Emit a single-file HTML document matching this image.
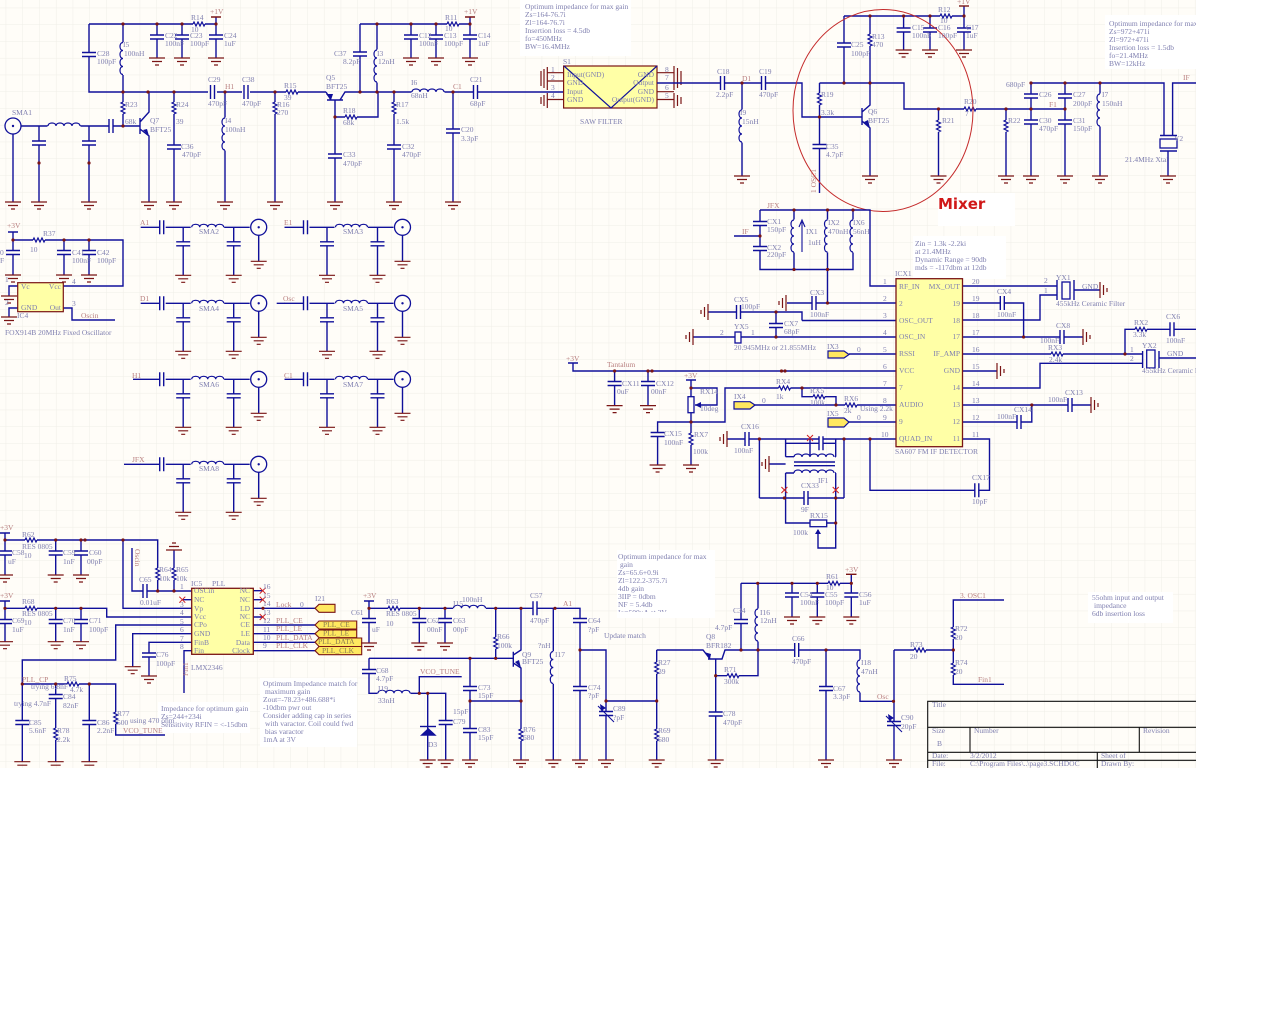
<!DOCTYPE html>
<html><head><meta charset="utf-8"><style>
html,body{margin:0;padding:0;background:#fff}
svg{display:block;filter:blur(0.3px)}
text{font-family:"Liberation Serif",serif;font-size:7.5px;fill:#8080b0}
.n text,text.n{fill:#b98080}
.w{fill:none;stroke:#10109a;stroke-width:1.4}
.s{fill:none;stroke:#10109a;stroke-width:1.2}
.m{fill:none;stroke:#7a1515;stroke-width:1.2}
</style></head><body>
<svg width="1280" height="1024" viewBox="0 0 1280 1024" xmlns="http://www.w3.org/2000/svg">
<defs>
<pattern id="grid" x="5.7" y="7.7" width="16.75" height="16.75" patternUnits="userSpaceOnUse"><path d="M16.75 0H0V16.75" fill="none" stroke="#efeee7" stroke-width="1"/></pattern>
<g id="g"><path class="m" d="M-8 0H8M-5 3.5H5M-2 7H2"/></g>
<g id="gi"><path class="m" d="M-8 0H8M-5 -3.5H5M-2 -7H2"/></g>
<g id="gl"><path class="m" d="M0 -8V8M-3.5 -5V5M-7 -2V2"/></g>
<g id="gr"><path class="m" d="M0 -8V8M3.5 -5V5M7 -2V2"/></g>
<g id="d"><circle r="1.6" fill="#7a1515"/></g>
<g id="cv"><rect x="-7" y="-1.6" width="14" height="3.2" fill="#fffdf8"/><path class="w" d="M-7 -2H7M-7 2H7"/></g>
<g id="ch"><rect x="-1.6" y="-7" width="3.2" height="14" fill="#fffdf8"/><path class="w" d="M-2 -7V7M2 -7V7"/></g>
<g id="rv"><rect x="-3" y="-6" width="6" height="12" fill="#fffdf8"/><path class="s" d="M0 -6L-2 -5L2 -3L-2 -1L2 1L-2 3L2 5L0 6"/></g>
<g id="rh"><rect x="-6" y="-3" width="12" height="6" fill="#fffdf8"/><path class="s" d="M-6 0L-5 -2L-3 2L-1 -2L1 2L3 -2L5 2L6 0"/></g>
<g id="lv"><rect x="-4" y="-16.5" width="6" height="33" fill="#fffdf8"/><path class="s" d="M0 -16c-4 0-4 8 0 8c-4 0-4 8 0 8c-4 0-4 8 0 8c-4 0-4 8 0 8"/></g>
<g id="lh"><rect x="-16.5" y="-4" width="33" height="6" fill="#fffdf8"/><path class="s" d="M-16 0c0-4 8-4 8 0c0-4 8-4 8 0c0-4 8-4 8 0c0-4 8-4 8 0"/></g>
<g id="sma"><circle r="8" fill="#fffdf8" stroke="#10109a" stroke-width="1.3"/><circle r="1.2" fill="#10109a"/></g>
<g id="x"><path d="M-3 -3L3 3M-3 3L3 -3" stroke="#d02020" fill="none" stroke-width="1"/></g>
<g id="filt">
<path class="w" d="M0 0H19M25 0H50M75 0H109"/>
<path class="w" d="M42.5 0V48M93 0V48M118 8V34"/>
<use href="#ch" x="21" y="0"/>
<use href="#lh" x="67" y="0"/>
<use href="#cv" x="42.5" y="16.5"/>
<use href="#cv" x="93" y="16.5"/>
<use href="#sma" x="118" y="0"/>
<use href="#g" x="42.5" y="48"/><use href="#g" x="93" y="48"/><use href="#g" x="118" y="34"/>
</g>
</defs>

<rect x="0" y="0" width="1196" height="768" fill="#fffdf8"/>
<rect x="0" y="0" width="1196" height="768" fill="url(#grid)"/>

<!-- white note boxes -->
<g fill="#ffffff">
<rect x="520" y="0" width="111" height="56"/>
<rect x="1105" y="15" width="91" height="54"/>
<rect x="938" y="193" width="77" height="33"/>
<rect x="913" y="236" width="93" height="43"/>
<rect x="158" y="702" width="92" height="31"/>
<rect x="260" y="678" width="97" height="69"/>
<rect x="617" y="550" width="98" height="67"/>
<rect x="1088" y="592" width="85" height="31"/>
</g>

<!-- ===== top-left wires ===== -->
<path class="w" d="M89 24H216V17M89 24V92H208M217 92H242M250 92H326M123 24V126M157 24V58M182 24V58M216 24V58
M21 126H140M39 126V202M89 126V202M13 134V202
M140 118V134M140 122L149 112V92M140 129L149 136V202M174 92V202M225 92V202M275 92V202
M326 92L331 100M335 100V202M327 100H343M340 100L345 92H453M335 117H378V92M360 24V92M377 24V92M360 24H470V17M411 24V58M436 24V58M470 24V58
M394 92V202M453 92V202M453 92H520M520 92H563"/>
<path class="m" d="M211 17H221M465 17H475" style="stroke-width:1.4"/>
<g>
<use href="#rh" x="199" y="24"/><use href="#cv" x="89" y="54.5"/><use href="#lv" x="123" y="58.5"/>
<use href="#cv" x="157" y="37"/><use href="#cv" x="182" y="37"/><use href="#cv" x="216" y="37"/>
<use href="#rv" x="123" y="108"/><use href="#rv" x="174" y="108"/><use href="#rv" x="275" y="108"/><use href="#rv" x="394" y="108"/>
<use href="#ch" x="212.5" y="92"/><use href="#ch" x="246" y="92"/><use href="#rh" x="292" y="92"/>
<use href="#lh" x="64" y="126"/><use href="#ch" x="111" y="126"/>
<use href="#cv" x="39" y="143"/><use href="#cv" x="89" y="143"/>
<use href="#cv" x="174" y="147"/><use href="#lv" x="225" y="134"/><use href="#cv" x="335" y="156"/><use href="#cv" x="394" y="147"/><use href="#cv" x="453" y="131"/>
<use href="#rh" x="351" y="117"/><use href="#cv" x="360" y="54"/><use href="#lv" x="377" y="66"/>
<use href="#cv" x="411" y="37"/><use href="#cv" x="436" y="37"/><use href="#cv" x="470" y="37"/><use href="#rh" x="453" y="24"/>
<use href="#lh" x="428" y="92"/><use href="#ch" x="475.5" y="92"/>
<use href="#sma" x="13" y="126"/>
<path d="M149 136L143 130L147 129Z" fill="#10109a"/><path d="M331 100L326 94L333 94Z" fill="#10109a"/>
<use href="#g" x="13" y="202"/><use href="#g" x="39" y="202"/><use href="#g" x="89" y="202"/><use href="#g" x="149" y="202"/><use href="#g" x="174" y="202"/><use href="#g" x="225" y="202"/><use href="#g" x="275" y="202"/><use href="#g" x="335" y="202"/><use href="#g" x="394" y="202"/><use href="#g" x="453" y="202"/>
<use href="#g" x="157" y="58"/><use href="#g" x="182" y="58"/><use href="#g" x="216" y="58"/><use href="#g" x="411" y="58"/><use href="#g" x="436" y="58"/><use href="#g" x="470" y="58"/>
<use href="#d" x="123" y="24"/><use href="#d" x="157" y="24"/><use href="#d" x="182" y="24"/><use href="#d" x="216" y="24"/>
<use href="#d" x="123" y="92"/><use href="#d" x="148" y="92"/><use href="#d" x="174" y="92"/><use href="#d" x="225" y="92"/><use href="#d" x="275" y="92"/><use href="#d" x="123" y="126"/><use href="#d" x="39" y="163"/><use href="#d" x="89" y="163"/>
<use href="#d" x="335" y="117"/><use href="#d" x="360" y="92"/><use href="#d" x="377" y="92"/><use href="#d" x="394" y="92"/><use href="#d" x="453" y="92"/>
<use href="#d" x="377" y="24"/><use href="#d" x="411" y="24"/><use href="#d" x="436" y="24"/><use href="#d" x="470" y="24"/>
</g>
<text x="12" y="115">SMA1</text><text x="191" y="20">R14</text><text x="191" y="32">10</text><text class="n" x="210" y="14">+1V</text>
<text x="165" y="38">C22</text><text x="165" y="46">100nF</text><text x="190" y="38">C23</text><text x="190" y="46">100pF</text><text x="224" y="38">C24</text><text x="224" y="46">1uF</text>
<text x="97" y="56">C28</text><text x="97" y="64">100pF</text><text x="123" y="47">I5</text><text x="124" y="56">100nH</text>
<text x="208" y="82">C29</text><text x="208" y="106">470pF</text><text class="n" x="225" y="89">H1</text><text x="242" y="82">C38</text><text x="242" y="106">470pF</text>
<text x="284" y="88">R15</text><text x="284" y="100">39</text><text x="176" y="107">R24</text><text x="176" y="124">39</text><text x="125" y="107">R23</text><text x="125" y="124">68k</text>
<text x="150" y="123">Q7</text><text x="150" y="132">BFT25</text><text x="181" y="149">C36</text><text x="182" y="157">470pF</text><text x="225" y="123">I4</text><text x="225" y="132">100nH</text>
<text x="277" y="107">R16</text><text x="277" y="115">270</text><text x="326" y="80">Q5</text><text x="326" y="89">BFT25</text><text x="343" y="113">R18</text><text x="343" y="125">68k</text>
<text x="343" y="157">C33</text><text x="343" y="166">470pF</text><text x="334" y="56">C37</text><text x="343" y="64">8.2pF</text><text x="377" y="56">I3</text><text x="378" y="64">12nH</text>
<text x="445" y="20">R11</text><text x="445" y="31">10</text><text class="n" x="464" y="14">+1V</text><text x="419" y="38">C12</text><text x="419" y="46">100nF</text><text x="444" y="38">C13</text><text x="444" y="46">100pF</text><text x="478" y="38">C14</text><text x="478" y="46">1uF</text>
<text x="396" y="107">R17</text><text x="396" y="124">1.5k</text><text x="411" y="85">I6</text><text x="411" y="98">68nH</text><text class="n" x="453" y="89">C1</text><text x="470" y="82">C21</text><text x="470" y="106">68pF</text>
<text x="461" y="132">C20</text><text x="461" y="141">3.3pF</text><text x="402" y="149">C32</text><text x="402" y="157">470pF</text>

<!-- ===== SAW + mixer ===== -->
<rect x="563.6" y="66" width="93.4" height="42" fill="#ffffa6" stroke="#7a1515" stroke-width="1.2"/>
<path class="s" d="M564 66L611 108L657 66"/>
<path class="m" d="M547 72.7H563M547 81H563M547 99.5H563M657 72.7H674M657 91.7H674M657 99.5H674"/>
<path class="m" d="M547.3 67V90M544 69V88M541 71V86M547.3 93V108M544 95V106M541 97V104M674 66V90M677.5 68V88M681 71V85M674 93V108M677.5 95V106M681 97V104"/>
<path class="w" d="M657 83H720M725 83H761M766 83H802V117H862M742 83V176M819.5 83H904V109H1065M819.5 83V117M819.5 117V193
M844 16V83M870 16V83M844 16H964V6M903.6 16V50M930 16V50M964 16V50
M862 108V125M862 112L870 105V83M862 121L870 128V176M938.5 109V176M1006 109V176M1031 83V176M1065 83V176M1100 83V176
M1031 83H1164V135M1172.6 135V83H1196M1168 151V176"/>
<path class="m" d="M959 6H969" style="stroke-width:1.4"/>
<g>
<use href="#ch" x="722.5" y="83"/><use href="#ch" x="763.5" y="83"/><use href="#lv" x="742" y="126"/>
<use href="#rv" x="819.5" y="99"/><use href="#cv" x="819.5" y="146.5"/><use href="#cv" x="844" y="45"/><use href="#rv" x="870" y="40"/>
<use href="#cv" x="903.6" y="30"/><use href="#cv" x="930" y="30"/><use href="#cv" x="964" y="30"/><use href="#rh" x="946" y="16"/>
<use href="#rh" x="970" y="109"/><use href="#rv" x="938.5" y="126"/><use href="#rv" x="1006" y="126"/>
<use href="#cv" x="1031" y="96"/><use href="#cv" x="1031" y="122"/><use href="#cv" x="1065" y="96"/><use href="#cv" x="1065" y="122"/><use href="#lv" x="1100" y="110"/>
<rect x="1160" y="139" width="17" height="9" fill="#fffdf8" stroke="#10109a" stroke-width="1.3"/><path class="w" d="M1160 135.5H1177M1160 151H1177"/>
<path d="M870 128L864 122L868 120Z" fill="#10109a"/>
<use href="#g" x="742" y="176"/><use href="#g" x="870" y="176"/><use href="#g" x="938.5" y="176"/><use href="#g" x="1006" y="176"/><use href="#g" x="1031" y="176"/><use href="#g" x="1065" y="176"/><use href="#g" x="1100" y="176"/><use href="#g" x="1168" y="176"/>
<use href="#g" x="903.6" y="50"/><use href="#g" x="930" y="50"/><use href="#g" x="964" y="50"/>
<use href="#d" x="742" y="83"/><use href="#d" x="844" y="83"/><use href="#d" x="870" y="83"/><use href="#d" x="819.5" y="117"/>
<use href="#d" x="870" y="16"/><use href="#d" x="903.6" y="16"/><use href="#d" x="930" y="16"/><use href="#d" x="964" y="16"/>
<use href="#d" x="938.5" y="109"/><use href="#d" x="1006" y="109"/><use href="#d" x="1031" y="109"/><use href="#d" x="1065" y="109"/><use href="#d" x="1031" y="83"/><use href="#d" x="1065" y="83"/><use href="#d" x="1100" y="83"/>
</g>
<ellipse cx="883" cy="110.5" rx="90" ry="101" fill="none" stroke="#c42a2a" stroke-width="1"/>
<text x="938" y="209" style="font-family:'DejaVu Sans',sans-serif;font-weight:bold;font-size:15px;fill:#d01818">Mixer</text>

<g><text x="525" y="9">Optimum impedance for max gain</text><text x="525" y="17">Zs=164-76.7i</text><text x="525" y="25">Zl=164-76.7i</text><text x="525" y="33">Insertion loss = 4.5db</text><text x="525" y="41">fo=450MHz</text><text x="525" y="49">BW=16.4MHz</text>
<text x="1109" y="26">Optimum impedance for max g</text><text x="1109" y="34">Zs=972+471i</text><text x="1109" y="42">Zl=972+471i</text><text x="1109" y="50">Insertion loss = 1.5db</text><text x="1109" y="58">fo=21.4MHz</text><text x="1109" y="66">BW=12kHz</text></g>
<text x="563" y="64">S1</text><text x="567" y="77">Input(GND)</text><text x="567" y="85">GND</text><text x="567" y="94">Input</text><text x="567" y="102">GND</text>
<g text-anchor="end"><text x="654" y="77">GND</text><text x="654" y="85">Output</text><text x="654" y="94">GND</text><text x="654" y="102">Output(GND)</text></g>
<text x="551" y="72">1</text><text x="551" y="80">2</text><text x="551" y="90">3</text><text x="551" y="98">4</text><text x="665" y="72">8</text><text x="665" y="80">7</text><text x="665" y="90">6</text><text x="665" y="98">5</text>
<text x="580" y="124">SAW FILTER</text><text x="717" y="74">C18</text><text x="716" y="97">2.2pF</text><text class="n" x="742" y="81">D1</text><text x="759" y="74">C19</text><text x="759" y="97">470pF</text>
<text x="740" y="115">I9</text><text x="742" y="124">15nH</text><text x="821" y="97">R19</text><text x="821" y="115">3.3k</text><text x="826" y="149">C35</text><text x="826" y="157">4.7pF</text>
<text x="851" y="47">C25</text><text x="851" y="56">100pF</text><text x="872" y="39">R13</text><text x="872" y="47">470</text><text x="868" y="114">Q6</text><text x="868" y="123">BFT25</text>
<text x="938" y="12">R12</text><text x="940" y="23">10</text><text class="n" x="957" y="4">+1V</text><text x="912" y="30">C15</text><text x="912" y="38">100nF</text><text x="938" y="30">C16</text><text x="938" y="38">100pF</text><text x="966" y="30">C17</text><text x="966" y="38">1uF</text>
<text x="964" y="104">R20</text><text x="965" y="116">7</text><text x="942" y="123">R21</text><text x="1008" y="123">R22</text><text x="1006" y="87">680pF</text>
<text x="1039" y="97">C26</text><text x="1039" y="123">C30</text><text x="1039" y="131">470pF</text><text class="n" x="1049" y="107">F1</text><text x="1073" y="97">C27</text><text x="1073" y="106">200pF</text><text x="1073" y="123">C31</text><text x="1073" y="131">150pF</text>
<text x="1102" y="97">I7</text><text x="1102" y="106">150nH</text><text x="1174" y="141">Y2</text><text x="1125" y="162">21.4MHz Xtal</text><text class="n" x="1183" y="80">IF</text>
<text class="n" transform="translate(816 193) rotate(-90)">1 OSC1</text>

<!-- ===== R37 / IC4 ===== -->
<path class="w" d="M13 232V275M8 232H18M13 240H123V286H63M64 240V275M89 240V275"/>
<path class="w" d="M17.7 286H9V296M17.7 308H9V317M63 308H72V320H115"/>
<use href="#rh" x="39" y="240"/><use href="#cv" x="13" y="252.5"/><use href="#cv" x="64" y="252.5"/><use href="#cv" x="89" y="252.5"/>
<use href="#g" x="13" y="275"/><use href="#g" x="64" y="275"/><use href="#g" x="89" y="275"/><use href="#g" x="9" y="296"/><use href="#g" x="9" y="317"/>
<use href="#d" x="13" y="240"/><use href="#d" x="64" y="240"/><use href="#d" x="89" y="240"/>
<rect x="17.7" y="282.7" width="45.6" height="29" fill="#ffffa6" stroke="#7a1515" stroke-width="1.2"/>
<text class="n" x="7" y="228">+3V</text><text x="43" y="236">R37</text><text x="30" y="252">10</text><text x="72" y="255">C41</text><text x="72" y="263">100nF</text><text x="97" y="255">C42</text><text x="97" y="263">100pF</text>
<text x="21" y="289">Vc</text><text x="61" y="289" text-anchor="end">Vcc</text><text x="21" y="310">GND</text><text x="61" y="310" text-anchor="end">Out</text>
<text x="72" y="284">4</text><text x="72" y="306">3</text><text x="17" y="318">IC4</text><text class="n" x="81" y="318">Oscin</text><text x="5" y="335">FOX914B 20MHz Fixed Oscillator</text><text x="5" y="282">1</text><text x="5" y="305">2</text><text x="0" y="255">0</text><text x="0" y="263">F</text>

<!-- ===== SMA filters ===== -->
<g transform="translate(140.7 227.3)"><use href="#filt"/></g>
<g transform="translate(284.5 227.3)"><use href="#filt"/></g>
<g transform="translate(140.7 303.3)"><use href="#filt"/></g>
<g transform="translate(284.5 303.3)"><use href="#filt"/></g>
<path class="w" d="M276.7 303.3H285M133 379.3H141M124 464.3H141"/>
<g transform="translate(140.7 379.3)"><use href="#filt"/></g>
<g transform="translate(284.5 379.3)"><use href="#filt"/></g>
<g transform="translate(140.7 464.3)"><use href="#filt"/></g>
<text x="199" y="234">SMA2</text><text x="343" y="234">SMA3</text><text x="199" y="311">SMA4</text><text x="343" y="311">SMA5</text><text x="199" y="387">SMA6</text><text x="343" y="387">SMA7</text><text x="199" y="471">SMA8</text>
<g class="n"><text x="140" y="225">A1</text><text x="284" y="225">E1</text><text x="140" y="301">D1</text><text x="283" y="301">Osc</text><text x="132" y="378">H1</text><text x="284" y="378">C1</text><text x="132" y="462">JFX</text></g>

<!-- ===== IF section ===== -->
<path class="w" d="M760 210H870V286H896M760 210V269.5H853V210M794 210V269.5M827.5 210V303M853 210V269.5M734 236H760
M787 303H896M802 320.5H896M802 320.5V312H708M776 312V337M693 337H896M849 354H896M573 363V371H896M568 363H578
M614.6 371V405.6M648 371V405.6M691 380V465M686 380H696M691 388H717V405H695M691 422H657.6V465M657.6 422H725V388H896M802 388V396.7H836V405M755 405H896M849 422H896
M727 439H896M759.4 439V498M844 439V498M785.6 439V456.7M835.7 439V456.7M785.6 443.3H835.7M810 438V456M769 464H785.6
M785.6 473V523H836M835.7 473V548H818V530M759.4 498H844M870 439V490.3H989.5V439H962.5
M962.5 286H1057M962.5 303H1023.6V337M962.5 320H1040V295H1057M962.5 337H1083M962.5 354H1142.6M1125 354V329.3H1196M962.5 371H997M962.5 388H1040V363.3H1142.6M962.5 405H1091M962.5 422H1031.8V405M1074 290H1100M1159 358H1196"/>
<path d="M802 252V222M799 227L802 220L805 227" fill="none" stroke="#10109a" stroke-width="1.1"/>
<g>
<use href="#cv" x="760" y="223.5"/><use href="#cv" x="760" y="248.5"/><use href="#lv" x="794" y="236"/><use href="#lv" x="827.5" y="236"/><use href="#lv" x="853" y="236"/>
<use href="#ch" x="814" y="303"/><use href="#ch" x="738.5" y="312"/><use href="#cv" x="776" y="325.5"/>
<rect x="735" y="332" width="6" height="11" fill="#fffdf8" stroke="#10109a" stroke-width="1.3"/>
<use href="#rh" x="784.5" y="388"/><use href="#rh" x="819" y="396.7"/><use href="#rh" x="851" y="405"/><use href="#rv" x="691" y="439"/><use href="#cv" x="657.6" y="434.5"/>
<rect x="688" y="396.7" width="6" height="16" fill="#fffdf8" stroke="#10109a" stroke-width="1.3"/>
<path d="M695 405L701 402V408Z" fill="#10109a"/>
<use href="#cv" x="614.6" y="383.5"/><use href="#cv" x="648" y="383.5"/>
<use href="#ch" x="747" y="439"/><use href="#ch" x="821" y="443.3"/><use href="#ch" x="806" y="498"/><use href="#ch" x="976.8" y="490.3"/>
<path class="w" d="M794 462H835M794 465.7H835M785.6 456.7H794M835 456.7H836M785.6 473H794M835 473H836"/>
<path class="s" d="M794 457c0-4 8-4 8 0c0-4 8-4 8 0c0-4 8-4 8 0c0-4 8-4 8 0c0-4 8-4 8 0M794 473c0-4 8-4 8 0c0-4 8-4 8 0c0-4 8-4 8 0c0-4 8-4 8 0c0-4 8-4 8 0"/>
<rect x="810" y="520" width="16.7" height="6.7" fill="#fffdf8" stroke="#10109a" stroke-width="1.3"/><path d="M818 529L815 534H821Z" fill="#10109a"/>
<use href="#x" x="810" y="438"/><use href="#x" x="784.4" y="490"/><use href="#x" x="835.7" y="490"/>
<use href="#ch" x="1002.3" y="303"/><use href="#ch" x="1062" y="337"/><use href="#ch" x="1172" y="329.3"/><use href="#rh" x="1057" y="354"/><use href="#rh" x="1141" y="329.3"/>
<use href="#ch" x="1070" y="405"/><use href="#ch" x="1019" y="422"/>
<path class="w" d="M1057 280V300M1074 280V300M1142.6 351V368M1159 351V368"/>
<rect x="1062" y="282" width="8" height="17" fill="#fffdf8" stroke="#10109a" stroke-width="1.3"/>
<rect x="1146.7" y="350" width="8.3" height="18" fill="#fffdf8" stroke="#10109a" stroke-width="1.3"/>
<use href="#gl" x="786" y="303"/><use href="#gl" x="708" y="312"/><use href="#gl" x="693" y="337"/><use href="#gl" x="727" y="439"/><use href="#gl" x="769" y="464"/>
<use href="#gr" x="1100" y="290"/><use href="#gr" x="1083" y="337"/><use href="#gr" x="997" y="371"/><use href="#gr" x="1091" y="405"/>
<use href="#g" x="614.6" y="405.6"/><use href="#g" x="648" y="405.6"/><use href="#g" x="691" y="465"/><use href="#g" x="657.6" y="465"/>
<use href="#d" x="760" y="236"/><use href="#d" x="794" y="210"/><use href="#d" x="827.5" y="210"/><use href="#d" x="853" y="210"/><use href="#d" x="794" y="269.5"/><use href="#d" x="827.5" y="269.5"/><use href="#d" x="827.5" y="303"/>
<use href="#d" x="776" y="312"/><use href="#d" x="776" y="337"/><use href="#d" x="614.6" y="371"/><use href="#d" x="648" y="371"/><use href="#d" x="652" y="371"/><use href="#d" x="781.5" y="371"/><use href="#d" x="785" y="371"/>
<use href="#d" x="691" y="388"/><use href="#d" x="691" y="422"/><use href="#d" x="802" y="388"/><use href="#d" x="836" y="405"/>
<use href="#d" x="759.4" y="439"/><use href="#d" x="844" y="439"/><use href="#d" x="870" y="439"/><use href="#d" x="784.4" y="498"/><use href="#d" x="835.7" y="498"/><use href="#d" x="835.7" y="523"/>
<use href="#d" x="1023.6" y="337"/><use href="#d" x="1125" y="354"/><use href="#d" x="1031.8" y="405"/>
</g>
<rect x="896" y="278.7" width="66.5" height="168" fill="#ffffa6" stroke="#7a1515" stroke-width="1.3"/>
<!-- ports -->
<g fill="#ffe860" stroke="#10109a" stroke-width="1.2"><path d="M828 351H844L849 354.5L844 358H828Z"/><path d="M734 401.7H750L755 405L750 409H734Z"/><path d="M828 418H844L849 422L844 427H828Z"/></g>
<text x="767" y="208" class="n">JFX</text><text x="767" y="224">CX1</text><text x="767" y="232">150pF</text><text x="767" y="250">CX2</text><text x="767" y="257">220pF</text><text class="n" x="742" y="234">IF</text>
<text x="806" y="234">IX1</text><text x="808" y="245">1uH</text><text x="828" y="225">IX2</text><text x="828" y="234">470nH</text><text x="853" y="225">IX6</text><text x="853" y="234">56nH</text>
<text x="915" y="246">Zin = 1.3k -2.2ki</text><text x="915" y="254">at 21.4MHz</text><text x="915" y="262">Dynamic Range = 90db</text><text x="915" y="270">mds = -117dbm at 12db</text>
<text x="895" y="276">ICX1</text><text x="810" y="295">CX3</text><text x="810" y="317">100nF</text><text x="734" y="302">CX5</text><text x="741" y="309">100pF</text><text x="784" y="326">CX7</text><text x="784" y="334">68pF</text>
<text x="734" y="329">YX5</text><text x="720" y="335">2</text><text x="751" y="335">1</text><text x="734" y="350">20.945MHz or 21.855MHz</text><text x="827" y="349">IX3</text><text x="857" y="352">0</text>
<g><text x="899" y="289">RF_IN</text><text x="899" y="306">2</text><text x="899" y="323">OSC_OUT</text><text x="899" y="339">OSC_IN</text><text x="899" y="356">RSSI</text><text x="899" y="373">VCC</text><text x="899" y="390">7</text><text x="899" y="407">AUDIO</text><text x="899" y="424">9</text><text x="899" y="441">QUAD_IN</text></g>
<g text-anchor="end"><text x="960" y="289">MX_OUT</text><text x="960" y="306">19</text><text x="960" y="323">18</text><text x="960" y="339">17</text><text x="960" y="356">IF_AMP</text><text x="960" y="373">GND</text><text x="960" y="390">14</text><text x="960" y="407">13</text><text x="960" y="424">12</text><text x="960" y="441">11</text></g>
<g><text x="883" y="284">1</text><text x="883" y="301">2</text><text x="883" y="318">3</text><text x="883" y="335">4</text><text x="883" y="352">5</text><text x="883" y="369">6</text><text x="883" y="386">7</text><text x="883" y="403">8</text><text x="883" y="420">9</text><text x="881" y="437">10</text>
<text x="972" y="284">20</text><text x="972" y="301">19</text><text x="972" y="318">18</text><text x="972" y="335">17</text><text x="972" y="352">16</text><text x="972" y="369">15</text><text x="972" y="386">14</text><text x="972" y="403">13</text><text x="972" y="420">12</text><text x="972" y="437">11</text></g>
<text x="1056" y="280">YX1</text><text x="1044" y="283">2</text><text x="1044" y="293">1</text><text x="1082" y="289">GND</text><text x="1056" y="306">455kHz Ceramic Filter</text><text x="997" y="294">CX4</text><text x="997" y="317">100nF</text>
<text x="1056" y="328">CX8</text><text x="1040" y="343">100nF</text><text x="1048" y="350">RX3</text><text x="1049" y="362">2.4k</text><text x="1134" y="325">RX2</text><text x="1133" y="337">3.3k</text><text x="1166" y="319">CX6</text><text x="1166" y="343">100nF</text>
<text x="1142" y="348">YX2</text><text x="1130" y="352">1</text><text x="1130" y="361">2</text><text x="1167" y="356">GND</text><text x="1142" y="373">455kHz Ceramic Filter</text><text x="1065" y="395">CX13</text><text x="1048" y="402">100nF</text><text x="1014" y="412">CX14</text><text x="997" y="419">100nF</text><text x="972" y="480">CX17</text><text x="972" y="504">10pF</text>
<text class="n" x="607" y="367">Tantalum</text><text x="622" y="386">CX11</text><text x="617" y="394">0uF</text><text x="656" y="386">CX12</text><text x="651" y="394">00nF</text><text class="n" x="566" y="361">+3V</text><text class="n" x="684" y="378">+3V</text>
<text x="700" y="394">RX14</text><text x="700" y="411">10deg</text><text x="776" y="384">RX4</text><text x="776" y="399">1k</text><text x="810" y="393">RX5</text><text x="810" y="405">100k</text><text x="844" y="401">RX6</text><text x="844" y="413">2k</text><text x="860" y="411">Using 2.2k</text>
<text x="734" y="399">IX4</text><text x="762" y="403">0</text><text x="827" y="416">IX5</text><text x="857" y="420">0</text><text x="694" y="437">RX7</text><text x="693" y="454">100k</text><text x="664" y="436">CX15</text><text x="664" y="445">100nF</text><text x="741" y="429">CX16</text><text x="734" y="453">100nF</text>
<text x="818" y="483">IF1</text><text x="801" y="488">CX33</text><text x="801" y="512">9F</text><text x="810" y="518">RX15</text><text x="793" y="535">100k</text><text x="895" y="454">SA607 FM IF DETECTOR</text>

<!-- ===== PLL section ===== -->
<path class="w" d="M5 533V575M0 533H10M5 540H157.7V591M55.7 540V575M81 540V575M123 540V608.3H191.7M174 550V591M132 548V591H191.7
M5 601V641.7M0 601H10M5 608.3H106.7V617H191.7M55.7 608V641.7M81 608V641.7
M182 599.7H191.7M191.7 625H115.7V660H22.3V761.7M191.7 633.7H132.7V666.7M191.7 642.3H149V676M191.7 650.7H184V693
M253 590.7H262.7M253 599.7H262.7M253 608.3H315M253 617H262.7M253 625H315M253 633.7H315M253 642.3H315M253 650.7H315
M22.3 684H115.7V735H165M55.7 684V761.7M89.3 684V761.7"/>
<g>
<use href="#rh" x="31" y="540"/><use href="#rh" x="31" y="608.3"/><use href="#cv" x="5" y="553"/><use href="#cv" x="55.7" y="553"/><use href="#cv" x="81" y="553"/>
<use href="#cv" x="5" y="621.5"/><use href="#cv" x="55.7" y="621.5"/><use href="#cv" x="81" y="621.5"/>
<use href="#rv" x="157.7" y="574"/><use href="#rv" x="174" y="574"/><use href="#ch" x="145" y="591"/><use href="#cv" x="149" y="655"/>
<use href="#rh" x="73" y="684"/><use href="#cv" x="55.7" y="696.5"/><use href="#rv" x="55.7" y="734"/><use href="#cv" x="22.3" y="722.5"/><use href="#cv" x="89.3" y="722.5"/><use href="#rv" x="115.7" y="718"/>
<use href="#x" x="182.3" y="599.7"/><use href="#x" x="262.7" y="590.7"/><use href="#x" x="262.7" y="599.7"/><use href="#x" x="262.7" y="617"/>
<use href="#gi" x="174" y="550"/>
<use href="#g" x="5" y="575"/><use href="#g" x="55.7" y="575"/><use href="#g" x="81" y="575"/><use href="#g" x="5" y="641.7"/><use href="#g" x="55.7" y="641.7"/><use href="#g" x="81" y="641.7"/>
<use href="#g" x="132.7" y="666.7"/><use href="#g" x="149" y="676"/><use href="#g" x="22.3" y="761.7"/><use href="#g" x="55.7" y="761.7"/><use href="#g" x="89.3" y="761.7"/>
<use href="#d" x="5" y="540"/><use href="#d" x="55.7" y="540"/><use href="#d" x="81" y="540"/><use href="#d" x="85" y="540"/><use href="#d" x="123" y="540"/><use href="#d" x="157.7" y="591"/><use href="#d" x="174" y="591"/>
<use href="#d" x="5" y="608.3"/><use href="#d" x="55.7" y="608.3"/><use href="#d" x="81" y="608.3"/><use href="#d" x="263" y="608.3"/><use href="#d" x="22.3" y="684"/><use href="#d" x="55.7" y="684"/><use href="#d" x="89.3" y="684"/>
</g>
<rect x="191.7" y="588.3" width="61.6" height="66" fill="#ffffa6" stroke="#7a1515" stroke-width="1.3"/>
<g fill="#ffe860" stroke="#7a1515" stroke-width="1.1"><path d="M315 608.3L319 604.3H335V612.3H319Z"/><path d="M315 625L319 621H356.7V629H319Z"/><path d="M315 633.7L319 630H356.7V637.7H319Z"/><path d="M315 642.3L319 638H361.7V646.5H319Z"/><path d="M315 650.7L319 646.5H361.7V654.7H319Z"/></g>
<text class="n" x="0" y="530">+3V</text><text x="22" y="537">R62</text><text x="22" y="549">RES 0805</text><text x="24" y="558">10</text><text x="12" y="555">C58</text><text x="8" y="564">uF</text><text x="63" y="555">C59</text><text x="63" y="564">1nF</text><text x="89" y="555">C60</text><text x="87" y="564">00pF</text>
<text x="159" y="572">R64</text><text x="159" y="581">10k</text><text x="176" y="572">R65</text><text x="176" y="581">10k</text><text class="n" transform="translate(135 549) rotate(90)">Oscin</text><text x="139" y="582">C65</text><text x="140" y="605">0.01uF</text><text x="191" y="586">IC5</text><text x="212" y="586">PLL</text>
<text x="180" y="589">1</text><text x="180" y="615">4</text><text x="180" y="624">5</text><text x="180" y="632">6</text><text x="180" y="641">7</text><text x="180" y="649">8</text><text x="180" y="607">3</text>
<text x="194" y="593">OSCin</text><text x="194" y="602">NC</text><text x="194" y="611">Vp</text><text x="194" y="619">Vcc</text><text x="194" y="627">CPo</text><text x="194" y="636">GND</text><text x="194" y="645">FinB</text><text x="194" y="653">Fin</text>
<g text-anchor="end"><text x="250" y="593">NC</text><text x="250" y="602">NC</text><text x="250" y="611">LD</text><text x="250" y="619">NC</text><text x="250" y="627">CE</text><text x="250" y="636">LE</text><text x="250" y="645">Data</text><text x="250" y="653">Clock</text></g>
<text x="263" y="589">16</text><text x="263" y="598">15</text><text x="263" y="606">14</text><text x="263" y="615">13</text><text x="263" y="623">12</text><text x="263" y="632">11</text><text x="263" y="640">10</text><text x="263" y="648">9</text>
<g class="n"><text x="276" y="607">Lock</text><text x="276" y="623">PLL_CE</text><text x="276" y="631">PLL_LE</text><text x="276" y="640">PLL_DATA</text><text x="276" y="648">PLL_CLK</text></g>
<text x="300" y="607">0</text><text x="315" y="601">I21</text>
<text x="323" y="627" style="fill:#8a7a50">PLL_CE</text><text x="323" y="635.5" style="fill:#8a7a50">PLL_LE</text><text x="318" y="644" style="fill:#8a7a50">PLL_DATA</text><text x="322" y="653" style="fill:#8a7a50">PLL_CLK</text>
<text class="n" x="0" y="598">+3V</text><text x="22" y="604">R68</text><text x="22" y="616">RES 0805</text><text x="24" y="625">10</text><text x="12" y="623">C69</text><text x="12" y="632">1uF</text><text x="63" y="623">C70</text><text x="63" y="632">1nF</text><text x="89" y="623">C71</text><text x="89" y="632">100pF</text>
<text x="156" y="657">C76</text><text x="156" y="666">100pF</text><text x="191" y="670">LMX2346</text><text class="n" transform="translate(188 676) rotate(-90)">Fin1</text>
<text class="n" x="22" y="682">PLL_CP</text><text x="31" y="689">trying 6.8nF</text><text x="64" y="681">R75</text><text x="70" y="692">4.7k</text><text x="63" y="699">C84</text><text x="63" y="708">82nF</text><text x="14" y="706">trying 4.7nF</text>
<text x="29" y="725">C85</text><text x="29" y="733">5.6nF</text><text x="57" y="733">R78</text><text x="57" y="742">2.2k</text><text x="97" y="725">C86</text><text x="97" y="733">2.2nF</text><text x="117" y="716">R77</text><text x="117" y="725">500</text><text x="130" y="723">using 470 ohm</text><text class="n" x="123" y="733">VCO_TUNE</text>
<text x="161" y="711">Impedance for optimum gain</text><text x="161" y="719">Zs=244+234i</text><text x="161" y="727">Sensitivity RFIN = &lt;-15dbm</text>
<text x="263" y="686">Optimum Impedance match for</text><text x="265" y="694">maximum gain</text><text x="263" y="702">Zout=-78.23+486.688*i</text><text x="263" y="710">-10dbm pwr out</text><text x="263" y="718">Consider adding cap in series</text><text x="265" y="726">with varactor. Coil could fwd</text><text x="265" y="734">bias varactor</text><text x="263" y="742">1mA at 3V</text>

<!-- ===== bottom middle ===== -->
<path class="w" d="M369 601V643M364 601H374M369 608.3H533M536.7 608.3H580V650H606V760M419.3 608V643M445 608V643M495.7 608V658.3M521 608V650L513.3 655M369 658.3H513.3M513.3 651.7V666.7M513.3 663L521 668V760
M470 658.3V760M470 701H521M369 658.3V693.3H445.7V760M427.7 693.3V760M419.3 693.3V676.7H461.7M553.3 608.3V760M580 650V760M606 701H656.7M656.7 650V760M656.7 650H703L710 659M708 659H722L725 650H741M715.7 659V760M715.7 675.7H758V583.3M741 583.3V650M741 583.3H851.3V574.3M792 583V617M817.3 583V617M851.3 583V617M741 650H795M798.3 650H860V701.3H894M826 650V760M894 650V760M894 650H953.3V684.3H1004M953.3 650V600H1004"/>
<path class="m" d="M846 574.3H856.5" style="stroke-width:1.4"/>
<g>
<use href="#rh" x="394" y="608.3"/><use href="#lh" x="469.5" y="608.3"/><use href="#ch" x="535" y="608.3"/><use href="#cv" x="369" y="620.5"/><use href="#cv" x="419.3" y="620.5"/><use href="#cv" x="445" y="620.5"/>
<use href="#rv" x="495.7" y="643"/><use href="#cv" x="369" y="671.5"/><use href="#lh" x="394" y="693.3"/><use href="#cv" x="470" y="688.5"/><use href="#cv" x="470" y="730.5"/><use href="#cv" x="445.7" y="722.5"/><use href="#rv" x="521" y="735"/>
<use href="#lv" x="553.3" y="667.5"/><use href="#cv" x="580" y="620.5"/><use href="#cv" x="580" y="688.5"/><use href="#cv" x="606" y="713.5"/>
<path d="M598 722L614 706" stroke="#10109a" stroke-width="1.1" fill="none" transform="rotate(90 606 714)"/><path d="M600 704L606 708L601 711Z" fill="#10109a"/>
<use href="#rv" x="656.7" y="668"/><use href="#rv" x="656.7" y="735"/><use href="#cv" x="715.7" y="714"/><use href="#rh" x="733" y="675.7"/>
<use href="#cv" x="741" y="621.5"/><use href="#lv" x="758" y="625"/><use href="#rh" x="834" y="583.3"/><use href="#cv" x="792" y="595"/><use href="#cv" x="817.3" y="595"/><use href="#cv" x="851.3" y="595"/>
<use href="#ch" x="796.7" y="650"/><use href="#cv" x="826" y="688.5"/><use href="#lv" x="860" y="676"/><use href="#cv" x="894" y="723.5"/>
<path d="M886 732L902 716" stroke="#10109a" stroke-width="1.1" fill="none" transform="rotate(90 894 724)"/><path d="M888 714L894 718L889 721Z" fill="#10109a"/>
<use href="#rh" x="920" y="650"/><use href="#rv" x="953.3" y="633"/><use href="#rv" x="953.3" y="669"/>
<path d="M420 735.7H436.7L428.3 728Z" fill="#10109a"/><path class="w" d="M420 726.5H436"/>
<path d="M710 659L704 652L711 654Z" fill="#10109a"/><path d="M521 668L515 662L519 660Z" fill="#10109a"/>
<use href="#g" x="369" y="643"/><use href="#g" x="419.3" y="643"/><use href="#g" x="445" y="643"/><use href="#g" x="427.7" y="760"/><use href="#g" x="445.7" y="760"/><use href="#g" x="470" y="760"/><use href="#g" x="521" y="760"/><use href="#g" x="553.3" y="760"/><use href="#g" x="580" y="760"/><use href="#g" x="606" y="760"/><use href="#g" x="656.7" y="760"/><use href="#g" x="715.7" y="760"/><use href="#g" x="792" y="617"/><use href="#g" x="817.3" y="617"/><use href="#g" x="851.3" y="617"/><use href="#g" x="826" y="760"/><use href="#g" x="894" y="760"/>
<use href="#d" x="369" y="608.3"/><use href="#d" x="419.3" y="608.3"/><use href="#d" x="445" y="608.3"/><use href="#d" x="495.7" y="608.3"/><use href="#d" x="521" y="608.3"/><use href="#d" x="555" y="608.3"/><use href="#d" x="495.7" y="658.3"/><use href="#d" x="470" y="658.3"/><use href="#d" x="470" y="701"/><use href="#d" x="521" y="701"/><use href="#d" x="419.3" y="693.3"/><use href="#d" x="427.7" y="693.3"/><use href="#d" x="580" y="650"/><use href="#d" x="606" y="701"/><use href="#d" x="656.7" y="701"/><use href="#d" x="715.7" y="675.7"/><use href="#d" x="741" y="650"/><use href="#d" x="758" y="650"/><use href="#d" x="757.7" y="583.3"/><use href="#d" x="792" y="583.3"/><use href="#d" x="817.3" y="583.3"/><use href="#d" x="851.3" y="583.3"/><use href="#d" x="826" y="650"/><use href="#d" x="893.5" y="701.3"/><use href="#d" x="953.3" y="650"/>
</g>
<text class="n" x="363" y="598">+3V</text><text x="386" y="604">R63</text><text x="386" y="616">RES 0805</text><text x="386" y="626">10</text><text x="351" y="615">C61</text><text x="372" y="632">uF</text><text x="427" y="623">C62</text><text x="427" y="632">00nF</text><text x="453" y="623">C63</text><text x="453" y="632">00pF</text>
<text x="453" y="606">I15</text><text x="462" y="602">100nH</text><text x="530" y="598">C57</text><text x="530" y="623">470pF</text><text class="n" x="563" y="606">A1</text><text x="588" y="623">C64</text><text x="588" y="632">?pF</text><text x="604" y="638">Update match</text><text x="538" y="648">?nH</text><text x="555" y="657">I17</text>
<text x="497" y="639">R66</text><text x="497" y="648">100k</text><text x="522" y="657">Q9</text><text x="522" y="664">BFT25</text><text x="376" y="673">C68</text><text x="376" y="681">4.7pF</text><text x="378" y="691">I19</text><text x="378" y="703">33nH</text><text class="n" x="420" y="674">VCO_TUNE</text>
<text x="478" y="690">C73</text><text x="478" y="698">15pF</text><text x="453" y="714">15pF</text><text x="453" y="724">C79</text><text x="478" y="732">C83</text><text x="478" y="740">15pF</text><text x="428" y="747">D3</text><text x="523" y="732">R76</text><text x="523" y="740">680</text>
<text x="588" y="690">C74</text><text x="588" y="698">?pF</text><text x="613" y="711">C89</text><text x="613" y="720">?pF</text><text x="658" y="665">R27</text><text x="658" y="674">39</text><text x="658" y="733">R69</text><text x="658" y="742">680</text>
<text x="723" y="716">C78</text><text x="723" y="725">470pF</text><text x="706" y="639">Q8</text><text x="706" y="648">BFR182</text><text x="724" y="672">R71</text><text x="724" y="684">300k</text><text x="733" y="613">C34</text><text x="715" y="630">4.7pF</text><text x="760" y="615">I16</text><text x="760" y="623">12nH</text>
<text x="800" y="597">C54</text><text x="800" y="605">100nF</text><text x="825" y="597">C55</text><text x="825" y="605">100pF</text><text x="859" y="597">C56</text><text x="859" y="605">1uF</text><text x="826" y="579">R61</text><text x="826" y="590">10</text><text class="n" x="845" y="572">+3V</text>
<text x="792" y="641">C66</text><text x="792" y="664">470pF</text><text x="833" y="691">C67</text><text x="833" y="699">3.3pF</text><text x="861" y="665">I18</text><text x="861" y="674">47nH</text><text class="n" x="877" y="699">Osc</text><text x="901" y="720">C90</text><text x="901" y="729">20pF</text>
<text x="910" y="647">R73</text><text x="910" y="659">20</text><text x="955" y="631">R72</text><text x="955" y="640">20</text><text x="955" y="665">R74</text><text x="955" y="674">20</text><text class="n" x="960" y="598">3. OSC1</text><text class="n" x="978" y="682">Fin1</text>
<text x="618" y="559">Optimum impedance for max</text><text x="620" y="567">gain</text><text x="618" y="575">Zs=65.6+0.9i</text><text x="618" y="583">Zl=122.2-375.7i</text><text x="618" y="591">4db gain</text><text x="618" y="599">3IIP = 0dbm</text><text x="618" y="607">NF = 5.4db</text><text x="618" y="615">Io=500uA at 3V</text>
<rect x="617" y="612" width="98" height="6" fill="#ffffff"/>
<text x="1092" y="600">55ohm input and output</text><text x="1094" y="608">impedance</text><text x="1092" y="616">6db insertion loss</text>

<!-- title block -->
<path d="M1196 701.3H927.7V768M927.7 727.3H1196M927.7 752.3H1196M927.7 760.3H1196M970 727.3V752.3M1139.3 727.3V752.3M1097.3 752.3V768" fill="none" stroke="#101010" stroke-width="1.1"/>
<text x="932" y="707">Title</text><text x="932" y="733">Size</text><text x="937" y="746">B</text><text x="974" y="733">Number</text><text x="1143" y="733">Revision</text><text x="932" y="758">Date:</text><text x="970" y="758">3/2/2012</text><text x="1101" y="758">Sheet   of</text><text x="932" y="766">File:</text><text x="970" y="766">C:\Program Files\..\page3.SCHDOC</text><text x="1101" y="766">Drawn By:</text>

<!-- clip outside capture -->
<rect x="1196" y="0" width="84" height="1024" fill="#ffffff"/>
<rect x="0" y="768" width="1280" height="256" fill="#ffffff"/>
</svg>
</body></html>
